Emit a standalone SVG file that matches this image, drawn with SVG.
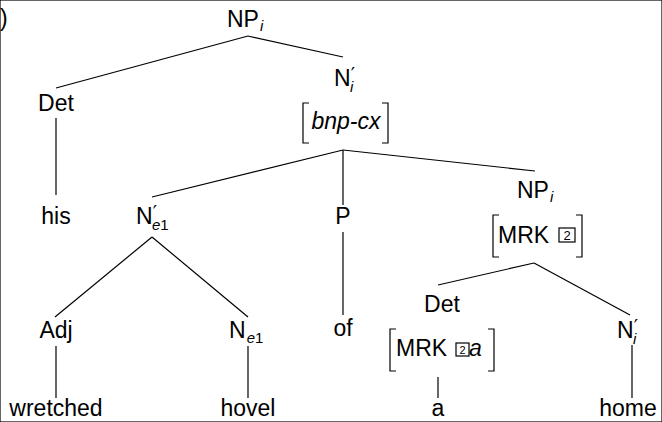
<svg xmlns="http://www.w3.org/2000/svg" width="662" height="422" viewBox="0 0 662 422">
<style>
text{font-family:"Liberation Sans",Arial,sans-serif;font-size:23px;fill:#000}
.m{text-anchor:middle}
.it{font-style:italic}
.sub{font-size:15px;font-style:italic}
.pr{font-family:"DejaVu Sans",sans-serif;font-size:19px}
.bx{font-size:13px;text-anchor:middle}
line,path,rect{stroke:#000;stroke-width:1.2;fill:none}
</style>
<rect width="662" height="422" fill="#fff" stroke="none"/>
<text x="0" y="26">)</text>
<g id="connectors">
<line x1="248" y1="36" x2="56" y2="88"/>
<line x1="248" y1="36" x2="343" y2="57"/>
<line x1="56" y1="118" x2="56" y2="195"/>
<line x1="343" y1="150" x2="152" y2="197"/>
<line x1="343" y1="150" x2="343" y2="205"/>
<line x1="343" y1="150" x2="535" y2="171"/>
<line x1="343" y1="232" x2="343" y2="315"/>
<line x1="152" y1="237" x2="55" y2="317"/>
<line x1="152" y1="237" x2="248" y2="317"/>
<line x1="56" y1="346" x2="56" y2="398"/>
<line x1="248" y1="346" x2="248" y2="398"/>
<line x1="534" y1="263" x2="438" y2="285"/>
<line x1="534" y1="263" x2="630" y2="315"/>
<line x1="438" y1="377" x2="438" y2="398"/>
<line x1="632" y1="345" x2="632" y2="398"/>
</g>
<g id="np-top"><text x="227" y="27">NP<tspan class="sub" dx="1" dy="4">i</tspan></text></g>
<g id="det1"><text class="m" x="56" y="111">Det</text></g>
<g id="his"><text class="m" x="56" y="224">his</text></g>
<g id="nbar-i"><text x="334" y="86">N<tspan class="pr" dy="-5">′</tspan><tspan class="sub" dx="-5" dy="11">i</tspan></text>
<path d="M309,103 H303 V143 H309"/><path d="M382,103 H388 V143 H382"/>
<text class="m it" x="346" y="129">bnp-cx</text></g>
<g id="nbar-e1"><text x="136" y="224">N<tspan class="pr" dy="-5">′</tspan><tspan class="sub" dx="-5" dy="11">e<tspan font-style="normal">1</tspan></tspan></text></g>
<g id="p"><text class="m" x="343" y="224">P</text></g>
<g id="of"><text class="m" x="343" y="336">of</text></g>
<g id="adj"><text class="m" x="56" y="338">Adj</text></g>
<g id="wretched"><text class="m" x="56" y="416">wretched</text></g>
<g id="n-e1"><text x="229" y="338">N<tspan class="sub" dx="1" dy="5">e<tspan font-style="normal">1</tspan></tspan></text></g>
<g id="hovel"><text class="m" x="248" y="416">hovel</text></g>
<g id="np-i"><text x="517" y="198">NP<tspan class="sub" dx="1" dy="4">i</tspan></text>
<path d="M499,215 H493 V257 H499"/><path d="M576,215 H582 V257 H576"/>
<text x="498" y="243">MRK</text><rect x="559" y="228" width="16" height="14"/><text class="bx" x="567" y="240">2</text></g>
<g id="det2"><text class="m" x="442" y="312">Det</text>
<path d="M396,329 H390 V371 H396"/><path d="M488,329 H494 V371 H488"/>
<text x="396" y="356">MRK</text><rect x="456" y="343" width="13" height="13"/><text class="bx" x="462.5" y="354" style="font-size:11px">2</text><text class="it" x="469" y="356">a</text></g>
<g id="a"><text class="m" x="438" y="416">a</text></g>
<g id="nbar-i2"><text x="617" y="338">N<tspan class="pr" dy="-5">′</tspan><tspan class="sub" dx="-5" dy="11">i</tspan></text></g>
<g id="home"><text class="m" x="628" y="416">home</text></g>
</svg>
